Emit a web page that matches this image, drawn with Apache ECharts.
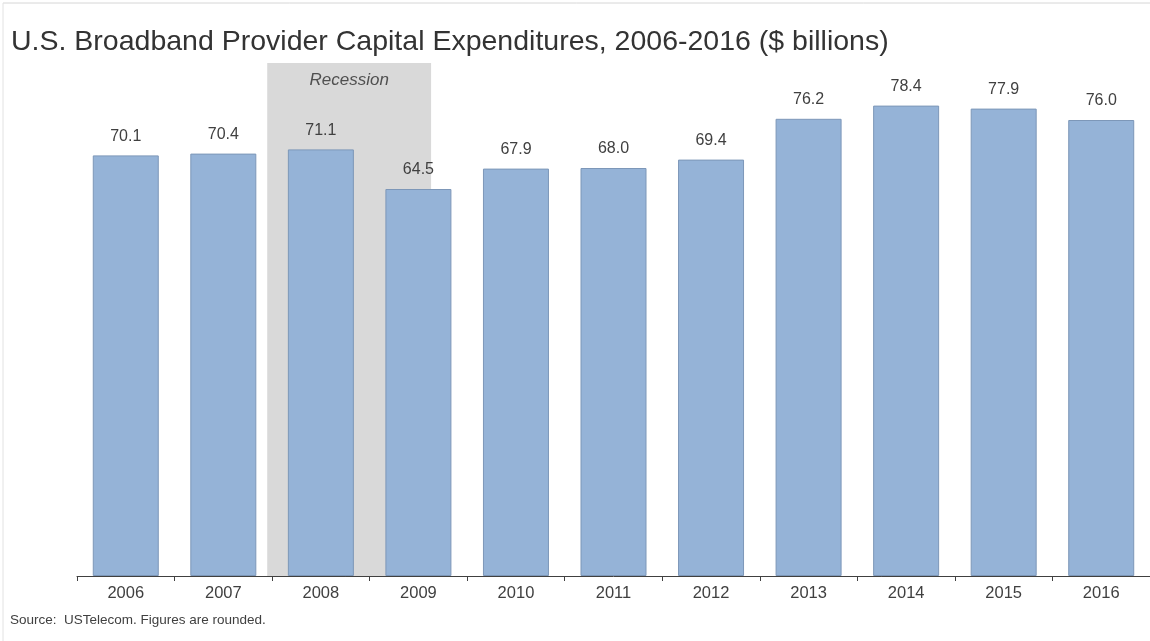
<!DOCTYPE html>
<html>
<head>
<meta charset="utf-8">
<script src="https://cdn.jsdelivr.net/npm/echarts@6/dist/echarts.min.js"></script>
<style>
html,body{margin:0;padding:0;background:#fff;}
#chart{width:1150px;height:641px;}
</style>
</head>
<body>
<div id="chart"></div>
<script>
var categories = ['2006','2007','2008','2009','2010','2011','2012','2013','2014','2015','2016'];
var capex = [70.1, 70.4, 71.1, 64.5, 67.9, 68.0, 69.4, 76.2, 78.4, 77.9, 76.0];
var recessionLabel = 'Recession';
var recessionSpan = [1.95, 3.63]; // in category units along the x-axis
var recessionTop = 85.5;

var chart = echarts.init(document.getElementById('chart'));
chart.setOption({
  animation: false,
  backgroundColor: '#ffffff',
  title: {
    text: 'U.S. Broadband Provider Capital Expenditures, 2006-2016 ($ billions)',
    left: 6, top: 23,
    textStyle: {fontFamily: 'Liberation Sans', fontSize: 28.5, fontWeight: 'normal', color: '#333333'}
  },
  graphic: [
    {type: 'line', shape: {x1: 3, y1: 3, x2: 1150, y2: 3}, style: {stroke: '#d6d6d6', lineWidth: 1}, silent: true},
    {type: 'line', shape: {x1: 3, y1: 3, x2: 3, y2: 641}, style: {stroke: '#e2e2e2', lineWidth: 1}, silent: true},
    {type: 'text', left: 10, top: 613, style: {text: 'Source:  USTelecom. Figures are rounded.', font: '13.5px "Liberation Sans"', fill: '#404040'}}
  ],
  grid: {left: 77, width: 1076, top: 63, bottom: 65, containLabel: false},
  xAxis: [
    {
      type: 'category', data: categories,
      axisLine: {lineStyle: {color: '#404040', width: 1}},
      axisTick: {show: true, alignWithLabel: false, length: 5, lineStyle: {color: '#404040'}},
      axisLabel: {fontFamily: 'Liberation Sans', fontSize: 16.5, color: '#404040', margin: 9}
    },
    {type: 'value', min: 0, max: 11, show: false}
  ],
  yAxis: {type: 'value', min: 0, max: recessionTop, show: false, splitLine: {show: false}},
  series: [
    {
      type: 'line', xAxisIndex: 1, data: [], silent: true,
      markArea: {
        silent: true,
        itemStyle: {color: '#d9d9d9'},
        label: {show: true, position: 'insideTop', distance: 9, formatter: recessionLabel,
          fontFamily: 'Liberation Sans', fontStyle: 'italic', fontSize: 17, color: '#505050'},
        data: [[{xAxis: recessionSpan[0], yAxis: 0}, {xAxis: recessionSpan[1], yAxis: recessionTop}]]
      },
      z: 0
    },
    {
      type: 'bar', data: capex, barWidth: 66, z: 3,
      itemStyle: {color: '#95b3d7', borderColor: '#7d97b8', borderWidth: 1},
      label: {show: true, position: 'top', distance: 11, formatter: function(p){return p.value.toFixed(1);},
        fontFamily: 'Liberation Sans', fontSize: 16, color: '#404040'}
    }
  ]
});
</script>
</body>
</html>
